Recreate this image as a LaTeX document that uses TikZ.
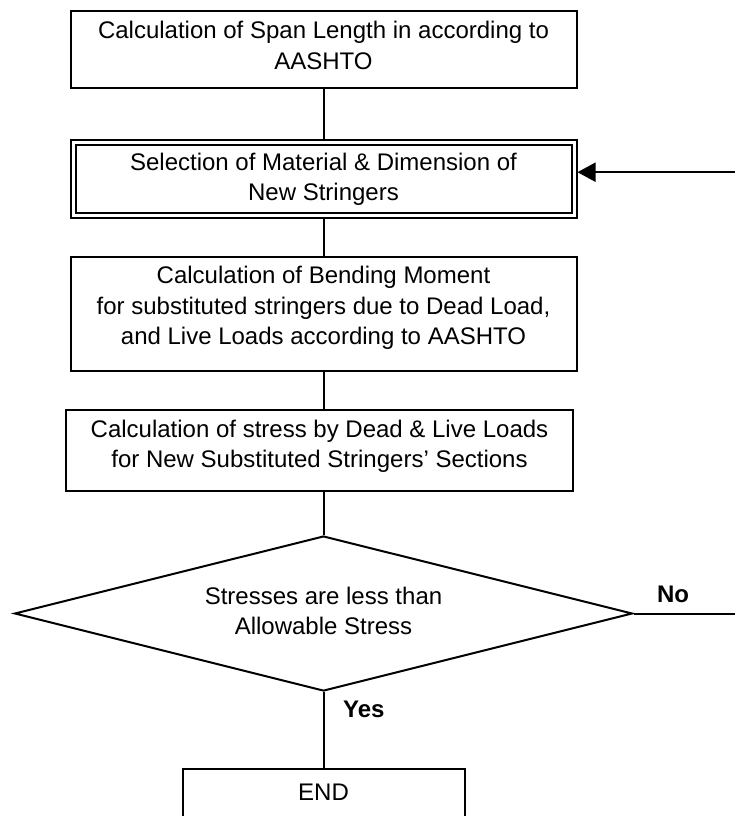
\documentclass[tikz,border=0pt]{standalone}
\usepackage{fontspec}
\setmainfont{Liberation Sans}
\usetikzlibrary{shapes.geometric,arrows.meta,calc}
\begin{document}
\begin{tikzpicture}[x=1pt,y=-1pt,
  every node/.style={font=\fontsize{24}{30.5}\selectfont},
  box/.style={draw, line width=2pt, rectangle, inner sep=0pt},
  dbox/.style={box, double, double distance=3pt, outer sep=3.5pt},
  txt/.style={align=center, inner sep=0pt},
  decision/.style={draw, line width=2pt, diamond, inner sep=0pt, aspect=3.99,
    minimum width=618pt, minimum height=155pt},
  link/.style={line width=2pt},
  arrowlink/.style={link, -{Triangle[length=18pt,width=19pt]}},
  tag/.style={font=\fontsize{24}{30.5}\selectfont\bfseries, inner sep=0pt}]
\useasboundingbox (0,0) rectangle (735,816);

% process boxes
\node[box, minimum width=506pt, minimum height=77pt] (b1) at (323.5,49.4) {};
\node[txt] (t1) at ($(b1.center)+(0,-4)$) {Calculation of Span Length in according to\\AASHTO};

\node[dbox, minimum width=501pt, minimum height=72.5pt] (b2) at (323.5,179.2) {};
\node[txt] (t2) at (b2.center) {Selection of Material \& Dimension of\\New Stringers};

\node[box, minimum width=506pt, minimum height=114pt] (b3) at (323.5,314) {};
\node[txt] (t3) at ($(b3.center)+(0,-6)$) {Calculation of Bending Moment\\for substituted stringers due to Dead Load,\\and Live Loads according to AASHTO};

\node[box, minimum width=507pt, minimum height=81pt] (b4) at (319.5,450.5) {};
\node[txt] (t4) at ($(b4.center)+(0,-4)$) {Calculation of stress by Dead \& Live Loads\\for New Substituted Stringers’ Sections};

% decision
\node[decision] (dec) at (323.5,613.5) {};
\node[txt] (td) at ($(dec.center)+(0,-2.5)$) {Stresses are less than\\Allowable Stress};

% end box (its lower edge runs past the page)
\node[box, minimum width=282pt, minimum height=52pt] (fin) at (323.5,795) {};
\node[txt] (tf) at ($(fin.center)+(0,-3)$) {END};

% branch labels
\node[tag, anchor=base] (no) at (673,602) {No};
\node[tag, anchor=base west] (yes) at (343,717) {Yes};

% connectors
\draw[link] (b1.south) -- (b2.north);
\draw[link] (b2.south) -- (b3.north);
\draw[link] (b3.south) -- (b3.south |- b4.north);
\draw[link] (dec.north |- b4.south) -- (dec.north);
\draw[link] (dec.south) -- (fin.north);

% loop back when the check fails
\coordinate (back) at (740,613.5);
\draw[arrowlink] (dec.east) -- (back) |- ($(b2.east)+(0,-7)$);
\end{tikzpicture}
\end{document}
